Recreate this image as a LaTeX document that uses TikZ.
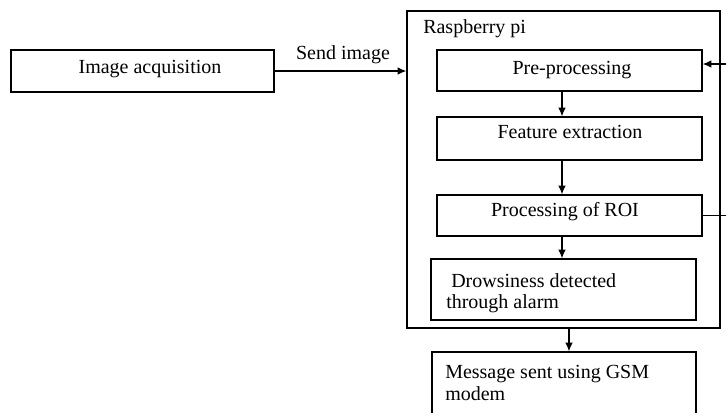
\documentclass[tikz,border=0pt]{standalone}
\usepackage{fontspec}
\setmainfont{Liberation Serif}
\usetikzlibrary{arrows.meta}
\begin{document}
\begin{tikzpicture}[x=0.75pt,y=-0.75pt,
  box/.style={draw, line width=0.9pt, inner sep=0pt},
  lbl/.style={inner sep=0pt, font=\fontsize{15}{18}\selectfont},
  arr/.style={line width=0.9pt, -{Latex[length=6.5pt,width=5.5pt]}},
  ln/.style={line width=0.9pt}]
\clip (0,0) rectangle (726,412);
\path[use as bounding box] (0,0) rectangle (726,412);

% boxes
\node[box, minimum width=197.25pt, minimum height=31.5pt] (acq) at (142.5,71) {};
\node[box, minimum width=234.75pt, minimum height=237.75pt] (rpi) at (563.5,169.5) {};
\node[box, minimum width=198.75pt, minimum height=30.75pt] (pre) at (569.5,70.5) {};
\node[box, minimum width=198.75pt, minimum height=32.25pt] (feat) at (569.5,138.5) {};
\node[box, minimum width=198.75pt, minimum height=30.75pt] (roi) at (569.5,215.5) {};
\node[box, minimum width=198.75pt, minimum height=45.75pt] (drow) at (563.5,289.5) {};
\node[box, minimum width=198pt, minimum height=58.5pt] (msg) at (564,391) {};

% texts
\node[lbl, anchor=base] (tacq) at (150,73) {Image acquisition};
\node[lbl, anchor=base] (tsend) at (343,59) {Send image};
\node[lbl, anchor=base west] (trpi) at (423,33) {Raspberry pi};
\node[lbl, anchor=base] (tpre) at (572,74) {Pre-processing};
\node[lbl, anchor=base] (tfeat) at (570,138) {Feature extraction};
\node[lbl, anchor=base] (troi) at (565,216) {Processing of ROI};
\node[lbl, anchor=base west] (tdrow1) at (451,287) {Drowsiness detected};
\node[lbl, anchor=base west] (tdrow2) at (446,308) {through alarm};
\node[lbl, anchor=base west] (tmsg1) at (445,378) {Message sent using GSM};
\node[lbl, anchor=base west] (tmsg2) at (445,400) {modem};

% connectors
\coordinate (ax) at (562,0);
\coordinate (bx) at (569,0);
\coordinate (fb) at (730,64);
\draw[arr] (acq.east) -- (acq.east -| rpi.west);
\draw[arr] (pre.south -| ax) -- (feat.north -| ax);
\draw[arr] (feat.south -| ax) -- (roi.north -| ax);
\draw[arr] (roi.south -| ax) -- (drow.north -| ax);
\draw[arr] (rpi.south -| bx) -- (msg.north -| bx);
\draw[arr] (roi.east) -| (fb) -- (fb -| pre.east);
\end{tikzpicture}
\end{document}
